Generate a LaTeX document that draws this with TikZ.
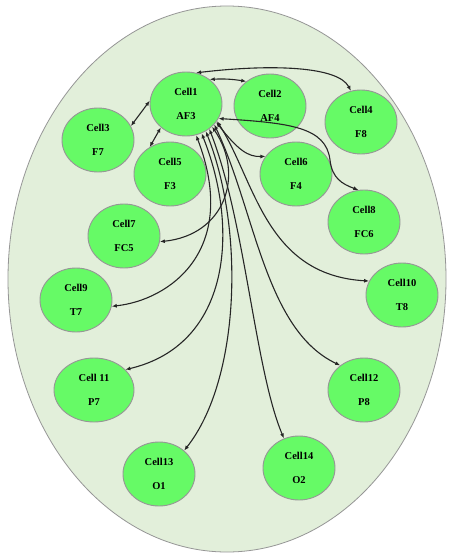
\documentclass[tikz,border=0pt]{standalone}
\usepackage{fontspec}
\setmainfont{Liberation Serif}
\usetikzlibrary{shapes.geometric,arrows.meta}
\definecolor{bgpale}{RGB}{226,239,218}
\definecolor{cellgreen}{RGB}{102,250,102}
\definecolor{rimgray}{RGB}{150,150,150}
\begin{document}
\begin{tikzpicture}[x=1pt,y=-1pt,
  cell/.style={ellipse, draw=rimgray, line width=0.9pt, fill=cellgreen,
    minimum width=72pt, minimum height=64pt, inner sep=0pt, align=center,
    font=\fontsize{10.5}{24}\selectfont\bfseries},
  link/.style={line width=1.1pt, draw=black!85,
    {Latex[length=5pt,width=4pt]}-{Latex[length=5pt,width=4pt]}}]
\fill[white] (0,0) rectangle (449,555);
\useasboundingbox (0,0) rectangle (449,555);
\node[ellipse, draw=rimgray, line width=0.8pt, fill=bgpale,
  minimum width=438pt, minimum height=546pt, inner sep=0pt] (cellbody) at (227,279) {};

\node[cell] (c1) at (186,104) {Cell1\\AF3};
\node[cell] (c2) at (270,106) {Cell2\\AF4};
\node[cell] (c4) at (361,122) {Cell4\\F8};
\node[cell] (c3) at (98,140) {Cell3\\F7};
\node[cell] (c5) at (170,174) {Cell5\\F3};
\node[cell] (c6) at (296,174) {Cell6\\F4};
\node[cell] (c8) at (364,222) {Cell8\\FC6};
\node[cell] (c7) at (124,236) {Cell7\\FC5};
\node[cell] (c9) at (76,300) {Cell9\\T7};
\node[cell] (c10) at (402,295) {Cell10\\T8};
\node[cell, minimum width=80pt] (c11) at (94,390) {Cell 11\\P7};
\node[cell] (c12) at (364,390) {Cell12\\P8};
\node[cell] (c13) at (159,474) {Cell13\\O1};
\node[cell] (c14) at (299,468) {Cell14\\O2};

\draw[link] (c1.46) to[bend left=6] (c2.134);
\draw[link] (c1.72) .. controls (270,64) and (338,66) .. (c4.108);
\draw[link] (c1.175) -- (c3.23);
\draw[link] (c1.223) -- (c5.127);
\draw[link] (c1.-31) .. controls (238,150) and (248,157) .. (c6.150);
\draw[link] (c1.-24) .. controls (290,123) and (326,127) .. (330,160)
  .. controls (332,178) and (342,184) .. (c8.100);
\draw[link] (c1.-41) .. controls (245,175) and (225,235) .. (c7.-9);
\draw[link] (c1.-72) .. controls (240,250) and (170,300) .. (c9.-10);
\draw[link] (c1.-62) .. controls (240,230) and (230,345) .. (c11.33);
\draw[link] (c1.-54) .. controls (245,230) and (240,380) .. (c13.43);
\draw[link] (c1.-47) .. controls (245,220) and (255,370) .. (c14.117);
\draw[link] (c1.-36) .. controls (255,210) and (265,330) .. (c12.134);
\draw[link] (c1.-29) .. controls (255,180) and (265,275) .. (c10.157);
\end{tikzpicture}
\end{document}
